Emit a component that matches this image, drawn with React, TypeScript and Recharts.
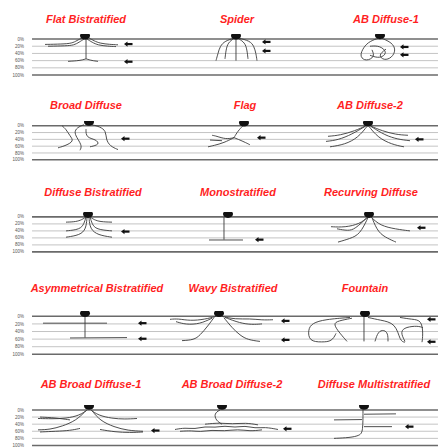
import { ComposedChart, Line, Scatter, XAxis, YAxis, ReferenceLine } from 'recharts'

type Pt = { x: number; y: number }
type Title = { x: number; label: string }

// IPL depth of the stratification layers (%)
const LAYER_TICKS = [0, 20, 40, 60, 80, 100]

// ---- row 1 ----
const flatBistratified: Pt[][] = [
  [{ x: 45, y: 15 }, { x: 62, y: 14 }, { x: 72, y: 12 }, { x: 77, y: 4 }, { x: 82, y: -3 }],
  [{ x: 48, y: 20 }, { x: 66, y: 19 }, { x: 74, y: 17 }, { x: 79, y: 9 }, { x: 84, y: 0 }],
  [{ x: 89, y: -3 }, { x: 94, y: 5 }, { x: 100, y: 12 }, { x: 110, y: 15 }, { x: 118, y: 16 }],
  [{ x: 87, y: 0 }, { x: 92, y: 9 }, { x: 98, y: 17 }, { x: 108, y: 20 }, { x: 116, y: 21 }],
  [{ x: 86, y: 0 }, { x: 86, y: 55 }],
  [{ x: 68, y: 62 }, { x: 80, y: 60 }, { x: 86, y: 55 }],
  [{ x: 86, y: 55 }, { x: 92, y: 60 }, { x: 98, y: 62 }],
]
const spider: Pt[][] = [
  [{ x: 235, y: -3 }, { x: 225, y: 5 }, { x: 220, y: 20 }, { x: 218, y: 40 }, { x: 216, y: 60 }],
  [{ x: 234, y: -2 }, { x: 228, y: 10 }, { x: 226, y: 30 }, { x: 225, y: 55 }],
  [{ x: 236, y: 0 }, { x: 236, y: 60 }],
  [{ x: 238, y: -2 }, { x: 245, y: 10 }, { x: 247, y: 30 }, { x: 248, y: 55 }],
  [{ x: 238, y: -3 }, { x: 250, y: 5 }, { x: 254, y: 20 }, { x: 256, y: 40 }, { x: 257, y: 60 }],
]
const abDiffuse1: Pt[][] = [
  [{ x: 378, y: -2 }, { x: 368, y: 8 }, { x: 362, y: 30 }, { x: 360, y: 50 }, { x: 366, y: 62 }, { x: 375, y: 50 }, { x: 372, y: 30 }],
  [{ x: 382, y: -2 }, { x: 392, y: 10 }, { x: 396, y: 30 }, { x: 392, y: 52 }, { x: 384, y: 60 }, { x: 378, y: 45 }, { x: 386, y: 28 }],
  [{ x: 370, y: 20 }, { x: 380, y: 18 }, { x: 388, y: 38 }, { x: 380, y: 55 }, { x: 370, y: 45 }],
]
const row1Titles: Title[] = [
  { x: 86, label: 'Flat Bistratified' },
  { x: 237, label: 'Spider' },
  { x: 386, label: 'AB Diffuse-1' },
]
const row1Somas: Pt[] = [{ x: 85, y: -9 }, { x: 236, y: -9 }, { x: 380, y: -10 }]
const row1Arrows: Pt[] = [{ x: 128, y: 14 }, { x: 128, y: 63 }, { x: 266, y: 8 }, { x: 266, y: 33 }, { x: 404, y: 22 }, { x: 404, y: 44 }]

// ---- row 2 ----
const broadDiffuse: Pt[][] = [
  [{ x: 62, y: 0 }, { x: 66, y: 10 }, { x: 70, y: 30 }, { x: 74, y: 45 }, { x: 66, y: 58 }, { x: 58, y: 65 }],
  [{ x: 84, y: -3 }, { x: 77, y: 5 }, { x: 74, y: 20 }, { x: 78, y: 40 }, { x: 82, y: 60 }, { x: 80, y: 72 }],
  [{ x: 92, y: -3 }, { x: 100, y: 3 }, { x: 106, y: 15 }, { x: 106, y: 40 }, { x: 110, y: 60 }, { x: 118, y: 70 }],
  [{ x: 86, y: 10 }, { x: 86, y: 35 }, { x: 96, y: 40 }, { x: 100, y: 55 }, { x: 90, y: 62 }],
]
const flag: Pt[][] = [
  [{ x: 243, y: 0 }, { x: 238, y: 15 }, { x: 234, y: 35 }],
  [{ x: 234, y: 35 }, { x: 226, y: 40 }, { x: 216, y: 30 }, { x: 212, y: 28 }],
  [{ x: 234, y: 35 }, { x: 224, y: 50 }, { x: 214, y: 58 }, { x: 208, y: 62 }],
  [{ x: 234, y: 35 }, { x: 240, y: 42 }, { x: 246, y: 50 }, { x: 250, y: 56 }],
  [{ x: 210, y: 42 }, { x: 222, y: 44 }],
]
const abDiffuse2: Pt[][] = [
  [{ x: 366, y: 0 }, { x: 355, y: 15 }, { x: 340, y: 28 }, { x: 328, y: 31 }],
  [{ x: 365, y: 2 }, { x: 352, y: 25 }, { x: 338, y: 42 }, { x: 326, y: 46 }],
  [{ x: 367, y: 2 }, { x: 358, y: 35 }, { x: 345, y: 55 }, { x: 330, y: 62 }],
  [{ x: 370, y: 0 }, { x: 382, y: 15 }, { x: 396, y: 26 }, { x: 408, y: 28 }],
  [{ x: 371, y: 2 }, { x: 385, y: 28 }, { x: 398, y: 40 }, { x: 410, y: 44 }],
  [{ x: 369, y: 2 }, { x: 378, y: 35 }, { x: 392, y: 55 }, { x: 404, y: 62 }],
]
const row2Titles: Title[] = [
  { x: 86, label: 'Broad Diffuse' },
  { x: 245, label: 'Flag' },
  { x: 370, label: 'AB Diffuse-2' },
]
const row2Somas: Pt[] = [{ x: 89, y: -11 }, { x: 244, y: -9 }, { x: 368, y: -9 }]
const row2Arrows: Pt[] = [{ x: 125, y: 38 }, { x: 261, y: 35 }, { x: 419, y: 40 }]

// ---- row 3 ----
const diffuseBistratified: Pt[][] = [
  [{ x: 86, y: 0 }, { x: 82, y: 8 }, { x: 76, y: 14 }, { x: 66, y: 15 }],
  [{ x: 86, y: 0 }, { x: 84, y: 20 }, { x: 80, y: 36 }, { x: 66, y: 40 }],
  [{ x: 87, y: 2 }, { x: 86, y: 35 }, { x: 80, y: 52 }, { x: 66, y: 58 }],
  [{ x: 90, y: 0 }, { x: 94, y: 8 }, { x: 100, y: 14 }, { x: 112, y: 15 }],
  [{ x: 90, y: 0 }, { x: 92, y: 20 }, { x: 96, y: 36 }, { x: 112, y: 40 }],
  [{ x: 89, y: 2 }, { x: 90, y: 35 }, { x: 98, y: 52 }, { x: 112, y: 58 }],
]
const monostratified: Pt[][] = [
  [{ x: 224, y: 0 }, { x: 224, y: 65 }],
  [{ x: 209, y: 66 }, { x: 243, y: 66 }],
]
const recurvingDiffuse: Pt[][] = [
  [{ x: 368, y: 0 }, { x: 360, y: 20 }, { x: 345, y: 30 }, { x: 331, y: 28 }],
  [{ x: 367, y: 2 }, { x: 355, y: 35 }, { x: 348, y: 40 }, { x: 337, y: 34 }],
  [{ x: 368, y: 2 }, { x: 360, y: 50 }, { x: 350, y: 62 }, { x: 338, y: 72 }],
  [{ x: 371, y: 0 }, { x: 380, y: 25 }, { x: 396, y: 35 }, { x: 410, y: 40 }],
  [{ x: 372, y: 2 }, { x: 378, y: 45 }, { x: 388, y: 62 }, { x: 396, y: 72 }],
]
const row3Titles: Title[] = [
  { x: 93, label: 'Diffuse Bistratified' },
  { x: 238, label: 'Monostratified' },
  { x: 371, label: 'Recurving Diffuse' },
]
const row3Somas: Pt[] = [{ x: 88, y: -8 }, { x: 228, y: -8 }, { x: 369, y: -8 }]
const row3Arrows: Pt[] = [{ x: 125, y: 42 }, { x: 259, y: 65 }, { x: 421, y: 31 }]

// ---- row 4 ----
const asymBistratified: Pt[][] = [
  [{ x: 43, y: 18 }, { x: 107, y: 18 }],
  [{ x: 85, y: 0 }, { x: 85, y: 56 }],
  [{ x: 70, y: 57 }, { x: 127, y: 56 }],
]
const wavyBistratified: Pt[][] = [
  [{ x: 216, y: 0 }, { x: 205, y: 8 }, { x: 190, y: 12 }, { x: 178, y: 6 }, { x: 170, y: 8 }],
  [{ x: 212, y: 5 }, { x: 200, y: 20 }, { x: 186, y: 22 }, { x: 176, y: 14 }],
  [{ x: 214, y: 3 }, { x: 208, y: 25 }, { x: 200, y: 50 }, { x: 194, y: 62 }, { x: 182, y: 64 }],
  [{ x: 222, y: 0 }, { x: 235, y: 8 }, { x: 250, y: 6 }, { x: 262, y: 10 }, { x: 273, y: 9 }],
  [{ x: 225, y: 3 }, { x: 240, y: 18 }, { x: 252, y: 22 }, { x: 262, y: 20 }],
  [{ x: 224, y: 4 }, { x: 232, y: 30 }, { x: 240, y: 50 }, { x: 248, y: 62 }, { x: 260, y: 66 }],
]
const fountain: Pt[][] = [
  [{ x: 350, y: 3 }, { x: 325, y: 8 }, { x: 312, y: 18 }, { x: 308, y: 35 }, { x: 309, y: 66 }, { x: 322, y: 68 }, { x: 332, y: 66 }, { x: 336, y: 45 }],
  [{ x: 352, y: 5 }, { x: 338, y: 12 }, { x: 333, y: 20 }, { x: 340, y: 45 }, { x: 347, y: 66 }],
  [{ x: 364, y: 0 }, { x: 364, y: 66 }],
  [{ x: 375, y: 66 }, { x: 378, y: 40 }, { x: 384, y: 35 }, { x: 388, y: 45 }, { x: 388, y: 66 }],
  [{ x: 368, y: 3 }, { x: 380, y: 10 }, { x: 396, y: 18 }, { x: 400, y: 66 }, { x: 405, y: 68 }],
  [{ x: 400, y: 3 }, { x: 412, y: 8 }, { x: 422, y: 10 }, { x: 423, y: 50 }, { x: 422, y: 68 }],
  [{ x: 405, y: 66 }, { x: 400, y: 40 }, { x: 406, y: 28 }, { x: 418, y: 25 }, { x: 423, y: 30 }],
]
const row4Titles: Title[] = [
  { x: 97, label: 'Asymmetrical Bistratified' },
  { x: 233, label: 'Wavy Bistratified' },
  { x: 365, label: 'Fountain' },
]
const row4Somas: Pt[] = [{ x: 85, y: -8 }, { x: 219, y: -8 }, { x: 365, y: -8 }]
const row4Arrows: Pt[] = [{ x: 142, y: 18 }, { x: 142, y: 59 }, { x: 285, y: 12 }, { x: 285, y: 62 }, { x: 431, y: 8 }, { x: 431, y: 67 }]

// ---- row 5 ----
const abBroadDiffuse1: Pt[][] = [
  [{ x: 87, y: 0 }, { x: 80, y: 15 }, { x: 66, y: 24 }, { x: 52, y: 25 }, { x: 38, y: 24 }],
  [{ x: 86, y: 2 }, { x: 76, y: 30 }, { x: 62, y: 46 }, { x: 50, y: 55 }, { x: 38, y: 56 }],
  [{ x: 40, y: 62 }, { x: 56, y: 60 }, { x: 70, y: 58 }, { x: 80, y: 52 }],
  [{ x: 40, y: 20 }, { x: 55, y: 22 }, { x: 70, y: 28 }],
  [{ x: 91, y: 0 }, { x: 98, y: 15 }, { x: 112, y: 24 }, { x: 125, y: 26 }, { x: 137, y: 24 }],
  [{ x: 92, y: 2 }, { x: 100, y: 30 }, { x: 114, y: 48 }, { x: 128, y: 58 }, { x: 143, y: 60 }],
  [{ x: 100, y: 55 }, { x: 115, y: 62 }, { x: 130, y: 64 }, { x: 143, y: 62 }],
]
const abBroadDiffuse2: Pt[][] = [
  [{ x: 220, y: 0 }, { x: 214, y: 10 }, { x: 216, y: 30 }, { x: 222, y: 40 }],
  [{ x: 175, y: 55 }, { x: 185, y: 50 }, { x: 195, y: 54 }, { x: 205, y: 46 }, { x: 215, y: 50 }, { x: 225, y: 44 }, { x: 235, y: 50 }, { x: 245, y: 44 }, { x: 255, y: 52 }, { x: 265, y: 48 }, { x: 278, y: 55 }],
  [{ x: 180, y: 60 }, { x: 192, y: 58 }, { x: 200, y: 62 }, { x: 212, y: 56 }, { x: 224, y: 60 }, { x: 238, y: 54 }, { x: 250, y: 60 }, { x: 262, y: 56 }],
  [{ x: 205, y: 40 }, { x: 220, y: 36 }, { x: 232, y: 40 }, { x: 246, y: 36 }, { x: 258, y: 42 }],
]
const diffuseMultistratified: Pt[][] = [
  [{ x: 363, y: 0 }, { x: 363, y: 60 }, { x: 360, y: 72 }, { x: 350, y: 78 }, { x: 334, y: 80 }],
  [{ x: 334, y: 28 }, { x: 362, y: 27 }],
  [{ x: 364, y: 12 }, { x: 396, y: 11 }],
  [{ x: 364, y: 47 }, { x: 392, y: 47 }],
]
const row5Titles: Title[] = [
  { x: 91, label: 'AB Broad Diffuse-1' },
  { x: 232, label: 'AB Broad Diffuse-2' },
  { x: 374, label: 'Diffuse Multistratified' },
]
const row5Somas: Pt[] = [{ x: 89, y: -11 }, { x: 222, y: -11 }, { x: 364, y: -11 }]
const row5Arrows: Pt[] = [{ x: 155, y: 58 }, { x: 287, y: 53 }, { x: 409, y: 47 }]

const rows = [
  { y0: 39, scale: 0.36, titleY: 23, titles: row1Titles, somas: row1Somas, arrows: row1Arrows, branches: [...flatBistratified, ...spider, ...abDiffuse1] },
  { y0: 126, scale: 0.34, titleY: 109, titles: row2Titles, somas: row2Somas, arrows: row2Arrows, branches: [...broadDiffuse, ...flag, ...abDiffuse2] },
  { y0: 217, scale: 0.35, titleY: 196, titles: row3Titles, somas: row3Somas, arrows: row3Arrows, branches: [...diffuseBistratified, ...monostratified, ...recurvingDiffuse] },
  { y0: 316, scale: 0.38, titleY: 292, titles: row4Titles, somas: row4Somas, arrows: row4Arrows, branches: [...asymBistratified, ...wavyBistratified, ...fountain] },
  { y0: 410, scale: 0.355, titleY: 388, titles: row5Titles, somas: row5Somas, arrows: row5Arrows, branches: [...abBroadDiffuse1, ...abBroadDiffuse2, ...diffuseMultistratified] },
]

const AXIS_H = 30
const BOTTOM_PAD = 3
const Y_MIN = -14
const Y_MAX = 102
const TITLE_RED = '#ff1f1f'

const Soma = (props: any) => {
  const { cx, cy } = props
  return <ellipse cx={cx} cy={cy} rx={5} ry={3.8} fill="#111" />
}

// small left-pointing arrow marking a stratification level
const Arrow = (props: any) => {
  const { cx, cy } = props
  return (
    <g>
      <path d={`M${cx - 4},${cy} L${cx - 0.5},${cy - 2.6} L${cx - 0.5},${cy + 2.6} Z`} fill="#111" stroke="none" />
      <rect x={cx - 1} y={cy - 1.1} width={5.5} height={2.2} fill="#111" stroke="none" />
    </g>
  )
}

function Row({ row }: { row: (typeof rows)[number] }) {
  const plotH = (Y_MAX - Y_MIN) * row.scale
  const top = row.y0 + Y_MIN * row.scale - AXIS_H

  return (
    <>
      {row.titles.map((t) => (
        <div
          key={t.label}
          style={{
            position: 'absolute',
            left: t.x - 100,
            top: row.titleY - 10,
            width: 200,
            textAlign: 'center',
            color: TITLE_RED,
            fontSize: 11,
            lineHeight: '12px',
            fontWeight: 700,
            fontStyle: 'italic',
            fontFamily: "'Liberation Sans', Arial, sans-serif",
            whiteSpace: 'nowrap',
          }}
        >
          {t.label}
        </div>
      ))}
      <div style={{ position: 'absolute', left: 0, top }}>
        <ComposedChart width={438} height={AXIS_H + plotH + BOTTOM_PAD} margin={{ top: AXIS_H, right: 0, bottom: BOTTOM_PAD, left: 0 }}>
          <XAxis type="number" dataKey="x" domain={[32, 438]} allowDataOverflow hide />
          <YAxis
            type="number"
            domain={[Y_MIN, Y_MAX]}
            allowDataOverflow
            reversed
            ticks={LAYER_TICKS}
            interval={0}
            width={32}
            axisLine={false}
            tickLine={false}
            tickMargin={2}
            tickFormatter={(v: number) => `${v}%`}
            tick={{ fontSize: 4.5, fill: '#555', fontFamily: "'Liberation Sans', Arial, sans-serif" }}
          />
          {LAYER_TICKS.map((v) => (
            <ReferenceLine
              key={v}
              y={v}
              stroke={v === 0 || v === 100 ? '#6a6a6a' : '#c4c4c4'}
              strokeWidth={v === 0 || v === 100 ? 1.6 : 1}
            />
          ))}
          {row.branches.map((b, i) => (
            <Line
              key={i}
              data={b}
              dataKey="y"
              type="basis"
              stroke="#3a3a3a"
              strokeWidth={0.9}
              dot={false}
              activeDot={false}
              isAnimationActive={false}
            />
          ))}
          <Scatter data={row.somas} dataKey="y" shape={Soma} isAnimationActive={false} />
          <Scatter data={row.arrows} dataKey="y" shape={Arrow} isAnimationActive={false} />
        </ComposedChart>
      </div>
    </>
  )
}

export default function App() {
  return (
    <div style={{ position: 'absolute', left: 0, top: 0, width: 438, height: 448, background: '#fff', overflow: 'hidden' }}>
      {rows.map((r, i) => (
        <Row key={i} row={r} />
      ))}
    </div>
  )
}
